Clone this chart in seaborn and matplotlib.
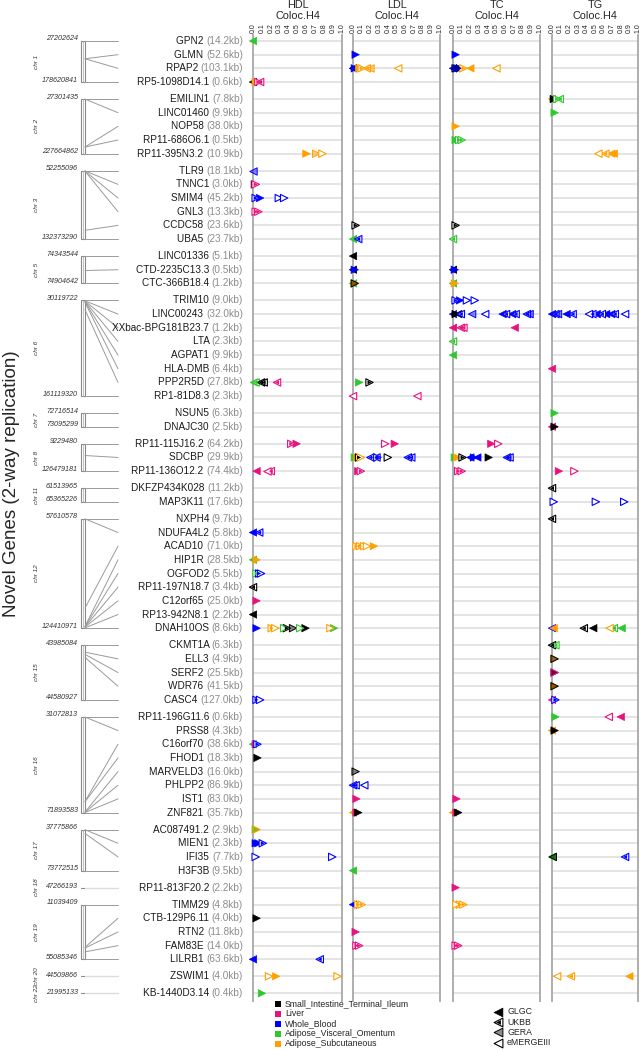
### Novel genes - colocalisation (Coloc.H4) by lipid trait
import numpy as np
import pandas as pd
import matplotlib
matplotlib.use('Agg')
import matplotlib.pyplot as plt
from matplotlib.colors import to_rgba
from matplotlib.patches import Rectangle
import seaborn as sns

# 1. Genes (top to bottom), gene size and approximate genomic position
genes = ['GPN2', 'GLMN', 'RPAP2', 'RP5-1098D14.1',
         'EMILIN1', 'LINC01460', 'NOP58', 'RP11-686O6.1', 'RP11-395N3.2',
         'TLR9', 'TNNC1', 'SMIM4', 'GNL3', 'CCDC58', 'UBA5',
         'LINC01336', 'CTD-2235C13.3', 'CTC-366B18.4',
         'TRIM10', 'LINC00243', 'XXbac-BPG181B23.7', 'LTA', 'AGPAT1', 'HLA-DMB', 'PPP2R5D', 'RP1-81D8.3',
         'NSUN5', 'DNAJC30',
         'RP11-115J16.2', 'SDCBP', 'RP11-136O12.2',
         'DKFZP434K028', 'MAP3K11',
         'NXPH4', 'NDUFA4L2', 'ACAD10', 'HIP1R', 'OGFOD2', 'RP11-197N18.7', 'C12orf65', 'RP13-942N8.1', 'DNAH10OS',
         'CKMT1A', 'ELL3', 'SERF2', 'WDR76', 'CASC4',
         'RP11-196G11.6', 'PRSS8', 'C16orf70', 'FHOD1', 'MARVELD3', 'PHLPP2', 'IST1', 'ZNF821',
         'AC087491.2', 'MIEN1', 'IFI35', 'H3F3B',
         'RP11-813F20.2',
         'TIMM29', 'CTB-129P6.11', 'RTN2', 'FAM83E', 'LILRB1',
         'ZSWIM1',
         'KB-1440D3.14']
gene_kb = ['14.2', '52.6', '103.1', '0.6',
           '7.8', '9.9', '38.0', '0.5', '10.9',
           '18.1', '3.0', '45.2', '13.3', '23.6', '23.7',
           '5.1', '0.5', '1.2',
           '9.0', '32.0', '1.2', '2.3', '9.9', '6.4', '27.8', '2.3',
           '6.3', '2.5',
           '64.2', '29.9', '74.4',
           '11.2', '17.6',
           '9.7', '5.8', '71.0', '28.5', '5.5', '3.4', '25.0', '2.2', '8.6',
           '6.3', '4.9', '25.5', '41.5', '127.0',
           '0.6', '4.3', '38.6', '18.3', '16.0', '86.9', '83.0', '35.7',
           '2.9', '2.3', '7.7', '9.5',
           '2.2',
           '4.8', '4.0', '11.8', '14.0', '63.6',
           '4.0',
           '0.4']
gene_pos = [27202624, 92712000, 92765000, 178620841,
            27301435, 27600000, 203130000, 203200000, 227664862,
            52255096, 52485000, 52700000, 52720000, 122080000, 132373290,
            74343544, 74640000, 74904642,
            30119722, 30740000, 31100000, 31540000, 32140000, 32900000, 42950000, 161119320,
            72716514, 73095299,
            9229480, 59460000, 126479181,
            61513965, 65365226,
            57610578, 57628000, 112123000, 123319000, 123459000, 123600000, 123717000, 124200000, 124410971,
            43985084, 44061000, 44085000, 44118000, 44580927,
            31072813, 31142000, 67143000, 67263000, 71660000, 71680000, 71860000, 71893583,
            37775866, 37885000, 41158000, 73772515,
            47266193,
            11039409, 45400000, 45990000, 49110000, 55085346,
            44509866,
            21995133]

chrom_names = ['chr 1', 'chr 2', 'chr 3', 'chr 5', 'chr 6', 'chr 7', 'chr 8', 'chr 11',
               'chr 12', 'chr 15', 'chr 16', 'chr 17', 'chr 18', 'chr 19', 'chr 20', 'chr 22']
chrom_counts = [4, 5, 6, 3, 8, 2, 3, 2, 9, 5, 8, 4, 1, 5, 1, 1]

# 2. Tissues (colour) and studies (marker style)
tissues = ['Small_Intestine_Terminal_Ileum', 'Liver', 'Whole_Blood',
           'Adipose_Visceral_Omentum', 'Adipose_Subcutaneous']
tissue_codes = ['SI', 'LV', 'WB', 'AV', 'AS']
tissue_colors = ['#000000', '#E8127F', '#0000FF', '#2EC72E', '#FFA000']
studies = ['GLGC', 'UKBB', 'GERA', 'eMERGEIII']
study_codes = ['G', 'U', 'R', 'E']

traits = ['HDL', 'LDL', 'TC', 'TG']

# 3. Coloc results: (gene, H4, tissue, study, direction of effect)
hdl_pts = [
    ('GPN2', 0.0, 'AV', 'G', '<'),
    ('RP5-1098D14.1', 0.0, 'SI', 'G', '<'), ('RP5-1098D14.1', 0.03, 'AS', 'G', '>'),
    ('RP5-1098D14.1', 0.06, 'LV', 'U', '>'), ('RP5-1098D14.1', 0.08, 'LV', 'U', '<'),
    ('RP11-395N3.2', 0.60, 'AS', 'G', '>'), ('RP11-395N3.2', 0.71, 'AS', 'R', '>'),
    ('RP11-395N3.2', 0.78, 'AS', 'E', '>'),
    ('TLR9', 0.0, 'WB', 'R', '<'),
    ('TNNC1', 0.02, 'SI', 'G', '>'), ('TNNC1', 0.03, 'LV', 'U', '>'),
    ('SMIM4', 0.03, 'WB', 'U', '>'), ('SMIM4', 0.08, 'WB', 'G', '>'),
    ('SMIM4', 0.29, 'WB', 'E', '>'), ('SMIM4', 0.35, 'WB', 'E', '>'),
    ('GNL3', 0.03, 'LV', 'U', '>'), ('GNL3', 0.06, 'LV', 'U', '>'),
    ('PPP2R5D', 0.01, 'AV', 'G', '<'), ('PPP2R5D', 0.03, 'AV', 'U', '<'),
    ('PPP2R5D', 0.09, 'SI', 'U', '<'), ('PPP2R5D', 0.12, 'SI', 'U', '<'),
    ('PPP2R5D', 0.27, 'LV', 'U', '<'),
    ('RP11-115J16.2', 0.43, 'LV', 'U', '>'), ('RP11-115J16.2', 0.49, 'LV', 'G', '>'),
    ('RP11-136O12.2', 0.04, 'LV', 'G', '<'), ('RP11-136O12.2', 0.16, 'LV', 'E', '<'),
    ('RP11-136O12.2', 0.20, 'LV', 'U', '<'),
    ('NDUFA4L2', 0.0, 'WB', 'G', '<'), ('NDUFA4L2', 0.07, 'WB', 'U', '<'),
    ('HIP1R', 0.0, 'AV', 'G', '<'), ('HIP1R', 0.04, 'AS', 'G', '>'),
    ('OGFOD2', 0.04, 'AV', 'U', '>'), ('OGFOD2', 0.07, 'WB', 'U', '>'), ('OGFOD2', 0.09, 'WB', 'E', '>'),
    ('RP11-197N18.7', 0.0, 'SI', 'U', '<'),
    ('C12orf65', 0.04, 'LV', 'G', '>'),
    ('RP13-942N8.1', 0.0, 'SI', 'G', '<'),
    ('DNAH10OS', 0.04, 'WB', 'G', '>'), ('DNAH10OS', 0.21, 'AS', 'U', '>'),
    ('DNAH10OS', 0.25, 'AS', 'E', '>'), ('DNAH10OS', 0.35, 'AV', 'E', '>'),
    ('DNAH10OS', 0.38, 'SI', 'U', '>'), ('DNAH10OS', 0.45, 'SI', 'R', '>'),
    ('DNAH10OS', 0.53, 'AV', 'E', '>'), ('DNAH10OS', 0.59, 'SI', 'G', '>'),
    ('DNAH10OS', 0.87, 'AS', 'E', '>'), ('DNAH10OS', 0.91, 'AV', 'G', '>'),
    ('CASC4', 0.04, 'WB', 'U', '>'), ('CASC4', 0.08, 'WB', 'E', '>'),
    ('C16orf70', 0.0, 'AV', 'G', '<'), ('C16orf70', 0.03, 'LV', 'G', '>'), ('C16orf70', 0.05, 'WB', 'U', '>'),
    ('FHOD1', 0.05, 'SI', 'G', '>'),
    ('AC087491.2', 0.03, 'AV', 'G', '>'), ('AC087491.2', 0.04, 'AS', 'R', '>'),
    ('MIEN1', 0.03, 'WB', 'G', '>'), ('MIEN1', 0.06, 'WB', 'G', '>'), ('MIEN1', 0.11, 'WB', 'U', '>'),
    ('IFI35', 0.03, 'WB', 'E', '>'), ('IFI35', 0.89, 'WB', 'E', '>'),
    ('CTB-129P6.11', 0.04, 'SI', 'G', '>'),
    ('LILRB1', 0.0, 'WB', 'G', '<'), ('LILRB1', 0.75, 'WB', 'U', '<'),
    ('ZSWIM1', 0.18, 'AS', 'E', '>'), ('ZSWIM1', 0.26, 'AS', 'G', '>'), ('ZSWIM1', 0.95, 'AS', 'E', '>'),
    ('KB-1440D3.14', 0.10, 'AV', 'G', '>'),
]
ldl_pts = [
    ('GLMN', 0.03, 'WB', 'G', '>'),
    ('RPAP2', 0.0, 'SI', 'G', '<'), ('RPAP2', 0.02, 'WB', 'G', '>'), ('RPAP2', 0.07, 'AS', 'G', '>'),
    ('RPAP2', 0.10, 'AS', 'U', '>'), ('RPAP2', 0.16, 'AS', 'U', '<'), ('RPAP2', 0.19, 'AS', 'R', '<'),
    ('RPAP2', 0.52, 'AS', 'E', '<'),
    ('CCDC58', 0.03, 'SI', 'U', '>'),
    ('UBA5', 0.0, 'AV', 'G', '<'), ('UBA5', 0.06, 'WB', 'U', '<'),
    ('LINC01336', 0.0, 'SI', 'G', '<'),
    ('CTD-2235C13.3', 0.0, 'SI', 'G', '<'), ('CTD-2235C13.3', 0.02, 'WB', 'G', '>'),
    ('CTC-366B18.4', 0.0, 'AV', 'G', '<'), ('CTC-366B18.4', 0.02, 'AS', 'G', '>'),
    ('CTC-366B18.4', 0.02, 'SI', 'R', '>'),
    ('PPP2R5D', 0.07, 'AV', 'G', '>'), ('PPP2R5D', 0.19, 'SI', 'U', '>'),
    ('RP1-81D8.3', 0.0, 'LV', 'E', '<'), ('RP1-81D8.3', 0.74, 'LV', 'E', '<'),
    ('RP11-115J16.2', 0.37, 'LV', 'E', '>'), ('RP11-115J16.2', 0.48, 'LV', 'G', '>'),
    ('SDCBP', 0.02, 'AV', 'G', '>'), ('SDCBP', 0.05, 'AS', 'G', '>'), ('SDCBP', 0.07, 'SI', 'U', '>'),
    ('SDCBP', 0.09, 'AS', 'E', '>'), ('SDCBP', 0.20, 'WB', 'U', '<'), ('SDCBP', 0.27, 'WB', 'U', '<'),
    ('SDCBP', 0.28, 'WB', 'U', '>'), ('SDCBP', 0.40, 'SI', 'E', '>'),
    ('SDCBP', 0.63, 'WB', 'U', '<'), ('SDCBP', 0.67, 'WB', 'U', '<'),
    ('RP11-136O12.2', 0.06, 'LV', 'G', '>'), ('RP11-136O12.2', 0.09, 'LV', 'U', '>'),
    ('ACAD10', 0.04, 'AS', 'U', '>'), ('ACAD10', 0.08, 'AS', 'U', '>'), ('ACAD10', 0.13, 'AS', 'E', '>'),
    ('ACAD10', 0.16, 'AS', 'E', '>'), ('ACAD10', 0.24, 'AS', 'G', '>'),
    ('MARVELD3', 0.03, 'SI', 'R', '>'),
    ('PHLPP2', 0.0, 'WB', 'U', '<'), ('PHLPP2', 0.03, 'WB', 'U', '<'), ('PHLPP2', 0.13, 'WB', 'E', '<'),
    ('IST1', 0.04, 'LV', 'G', '>'),
    ('ZNF821', 0.0, 'AS', 'G', '<'), ('ZNF821', 0.04, 'LV', 'G', '>'), ('ZNF821', 0.06, 'SI', 'G', '>'),
    ('H3F3B', 0.0, 'AV', 'G', '<'),
    ('TIMM29', 0.0, 'WB', 'G', '<'), ('TIMM29', 0.06, 'AS', 'U', '>'), ('TIMM29', 0.10, 'AS', 'U', '>'),
    ('RTN2', 0.03, 'LV', 'G', '>'),
    ('FAM83E', 0.04, 'LV', 'U', '>'), ('FAM83E', 0.07, 'LV', 'U', '>'),
]
tc_pts = [
    ('GLMN', 0.03, 'WB', 'G', '>'),
    ('RPAP2', 0.0, 'WB', 'G', '<'), ('RPAP2', 0.03, 'SI', 'R', '>'), ('RPAP2', 0.05, 'WB', 'R', '>'),
    ('RPAP2', 0.08, 'SI', 'G', '>'), ('RPAP2', 0.12, 'AS', 'U', '>'), ('RPAP2', 0.20, 'AS', 'G', '<'),
    ('RPAP2', 0.50, 'AS', 'E', '<'),
    ('NOP58', 0.03, 'AS', 'G', '>'),
    ('RP11-686O6.1', 0.03, 'AV', 'G', '>'), ('RP11-686O6.1', 0.07, 'AV', 'U', '>'),
    ('RP11-686O6.1', 0.10, 'AV', 'U', '>'),
    ('CCDC58', 0.03, 'SI', 'U', '>'),
    ('UBA5', 0.0, 'AV', 'U', '<'),
    ('CTD-2235C13.3', 0.0, 'SI', 'G', '<'), ('CTD-2235C13.3', 0.02, 'WB', 'G', '>'),
    ('CTC-366B18.4', 0.0, 'AV', 'G', '<'), ('CTC-366B18.4', 0.02, 'AS', 'G', '>'),
    ('TRIM10', 0.03, 'WB', 'U', '>'), ('TRIM10', 0.08, 'WB', 'G', '>'),
    ('TRIM10', 0.16, 'WB', 'E', '>'), ('TRIM10', 0.25, 'WB', 'E', '>'),
    ('LINC00243', 0.0, 'WB', 'G', '<'), ('LINC00243', 0.03, 'SI', 'G', '>'),
    ('LINC00243', 0.06, 'SI', 'G', '<'), ('LINC00243', 0.09, 'WB', 'U', '<'),
    ('LINC00243', 0.22, 'WB', 'R', '<'), ('LINC00243', 0.37, 'WB', 'E', '<'),
    ('LINC00243', 0.57, 'WB', 'G', '<'), ('LINC00243', 0.61, 'WB', 'U', '<'),
    ('LINC00243', 0.68, 'WB', 'G', '<'), ('LINC00243', 0.72, 'WB', 'U', '<'),
    ('LINC00243', 0.85, 'WB', 'U', '<'), ('LINC00243', 0.88, 'WB', 'R', '<'),
    ('XXbac-BPG181B23.7', 0.0, 'LV', 'G', '<'), ('XXbac-BPG181B23.7', 0.09, 'LV', 'U', '<'),
    ('XXbac-BPG181B23.7', 0.12, 'LV', 'U', '<'), ('XXbac-BPG181B23.7', 0.71, 'LV', 'G', '<'),
    ('LTA', 0.0, 'AV', 'U', '<'),
    ('AGPAT1', 0.0, 'AV', 'G', '<'),
    ('RP11-115J16.2', 0.44, 'LV', 'G', '>'), ('RP11-115J16.2', 0.52, 'LV', 'E', '>'),
    ('SDCBP', 0.02, 'AV', 'G', '>'), ('SDCBP', 0.05, 'AS', 'G', '>'), ('SDCBP', 0.11, 'SI', 'U', '>'),
    ('SDCBP', 0.20, 'WB', 'G', '<'), ('SDCBP', 0.24, 'WB', 'G', '>'), ('SDCBP', 0.28, 'WB', 'G', '<'),
    ('SDCBP', 0.41, 'SI', 'G', '>'), ('SDCBP', 0.62, 'WB', 'U', '<'), ('SDCBP', 0.65, 'WB', 'U', '<'),
    ('RP11-136O12.2', 0.06, 'LV', 'U', '>'), ('RP11-136O12.2', 0.10, 'LV', 'U', '>'),
    ('IST1', 0.04, 'LV', 'G', '>'),
    ('ZNF821', 0.0, 'AS', 'G', '<'), ('ZNF821', 0.04, 'LV', 'G', '>'), ('ZNF821', 0.06, 'SI', 'G', '>'),
    ('RP11-813F20.2', 0.03, 'LV', 'G', '>'),
    ('TIMM29', 0.04, 'AS', 'E', '>'), ('TIMM29', 0.08, 'AS', 'U', '>'), ('TIMM29', 0.12, 'AS', 'U', '>'),
    ('FAM83E', 0.03, 'LV', 'U', '>'), ('FAM83E', 0.06, 'LV', 'U', '>'),
]
tg_pts = [
    ('EMILIN1', 0.0, 'AS', 'G', '<'), ('EMILIN1', 0.02, 'SI', 'G', '>'),
    ('EMILIN1', 0.06, 'AV', 'U', '>'), ('EMILIN1', 0.09, 'AV', 'U', '<'),
    ('LINC01460', 0.03, 'AV', 'G', '>'),
    ('RP11-395N3.2', 0.54, 'AS', 'E', '<'), ('RP11-395N3.2', 0.62, 'AS', 'U', '<'),
    ('RP11-395N3.2', 0.69, 'AS', 'G', '<'), ('RP11-395N3.2', 0.72, 'AS', 'G', '<'),
    ('LINC00243', 0.0, 'WB', 'G', '<'), ('LINC00243', 0.04, 'WB', 'U', '<'),
    ('LINC00243', 0.07, 'WB', 'R', '<'), ('LINC00243', 0.17, 'WB', 'G', '<'),
    ('LINC00243', 0.24, 'WB', 'U', '<'), ('LINC00243', 0.43, 'WB', 'E', '<'),
    ('LINC00243', 0.47, 'WB', 'U', '<'), ('LINC00243', 0.52, 'WB', 'G', '<'),
    ('LINC00243', 0.58, 'WB', 'U', '<'), ('LINC00243', 0.63, 'WB', 'G', '<'),
    ('LINC00243', 0.69, 'WB', 'G', '<'), ('LINC00243', 0.73, 'WB', 'U', '<'),
    ('LINC00243', 0.85, 'WB', 'E', '<'),
    ('HLA-DMB', 0.0, 'LV', 'G', '<'),
    ('NSUN5', 0.03, 'AV', 'G', '>'),
    ('DNAJC30', 0.0, 'LV', 'G', '<'), ('DNAJC30', 0.03, 'SI', 'G', '>'),
    ('RP11-136O12.2', 0.08, 'LV', 'G', '>'), ('RP11-136O12.2', 0.26, 'LV', 'E', '>'),
    ('DKFZP434K028', 0.0, 'SI', 'U', '<'),
    ('MAP3K11', 0.02, 'WB', 'E', '>'), ('MAP3K11', 0.51, 'WB', 'E', '>'), ('MAP3K11', 0.84, 'WB', 'E', '>'),
    ('NXPH4', 0.0, 'SI', 'U', '<'),
    ('DNAH10OS', 0.0, 'WB', 'G', '<'), ('DNAH10OS', 0.02, 'AS', 'G', '<'),
    ('DNAH10OS', 0.37, 'SI', 'U', '<'), ('DNAH10OS', 0.48, 'SI', 'G', '<'),
    ('DNAH10OS', 0.67, 'AS', 'E', '<'), ('DNAH10OS', 0.72, 'AV', 'U', '<'),
    ('DNAH10OS', 0.81, 'AV', 'G', '<'),
    ('CKMT1A', 0.0, 'SI', 'U', '<'), ('CKMT1A', 0.04, 'AV', 'U', '<'),
    ('ELL3', 0.03, 'AS', 'R', '>'), ('ELL3', 0.03, 'SI', 'R', '>'),
    ('SERF2', 0.03, 'SI', 'G', '>'), ('SERF2', 0.03, 'LV', 'R', '>'),
    ('WDR76', 0.03, 'AS', 'G', '>'), ('WDR76', 0.03, 'SI', 'R', '>'),
    ('CASC4', 0.0, 'LV', 'G', '<'), ('CASC4', 0.04, 'WB', 'U', '>'),
    ('RP11-196G11.6', 0.04, 'AV', 'G', '>'), ('RP11-196G11.6', 0.66, 'LV', 'E', '<'),
    ('RP11-196G11.6', 0.80, 'LV', 'G', '<'),
    ('PRSS8', 0.0, 'AS', 'G', '<'), ('PRSS8', 0.03, 'SI', 'G', '>'),
    ('IFI35', 0.0, 'AV', 'G', '<'), ('IFI35', 0.01, 'SI', 'R', '<'), ('IFI35', 0.85, 'WB', 'U', '<'),
    ('ZSWIM1', 0.06, 'AS', 'E', '<'), ('ZSWIM1', 0.22, 'AS', 'U', '<'), ('ZSWIM1', 0.90, 'AS', 'G', '<'),
]

# 4. Layout (pixel coordinates of a 640x1050 figure)
W, H = 640, 1050
grp_idx = np.repeat(np.arange(len(chrom_counts)), chrom_counts)
row_y = 41 + 13.67 * np.arange(len(genes)) + 3.34 * grp_idx
gene_y = dict(zip(genes, row_y))
pal = dict(zip(tissue_codes, tissue_colors))
panel_x = [(253, 342), (353, 440), (453, 540), (552, 638)]
y_top, y_bot = 35, 1001
MS = 28

sns.set_theme(style='white')
plt.rcParams['font.family'] = ['Liberation Sans', 'DejaVu Sans']

fig = plt.figure(figsize=(W / 100, H / 100), dpi=100)
bg = fig.add_axes([0, 0, 1, 1])
bg.set_xlim(0, W)
bg.set_ylim(H, 0)
bg.axis('off')

# 5. Chromosome schematic on the left
start = 0
for name, n in zip(chrom_names, chrom_counts):
    idx = list(range(start, start + n))
    top, bot = row_y[idx[0]], row_y[idx[-1]]
    if n == 1:
        bg.plot([81, 85], [top, top], color='#888888', lw=0.8)
        bg.plot([85, 118], [top, top], color='#dddddd', lw=1.0)
        bg.text(78, top - 1, f'{gene_pos[idx[0]]}', ha='right', va='center',
                fontsize=5.2, style='italic', color='#333333')
    else:
        p0, p1 = gene_pos[idx[0]], gene_pos[idx[-1]]
        bg.add_patch(Rectangle((81, top), 4, bot - top, fill=False,
                               ec='#888888', lw=0.8))
        bg.plot([83, 83], [top, bot], color='#aaaaaa', lw=0.5)
        for i in idx:
            by = top + (gene_pos[i] - p0) / (p1 - p0) * (bot - top)
            bg.plot([85, 118], [by, row_y[i]], color='#9a9a9a', lw=0.7)
        bg.text(78, top - 2, f'{p0}', ha='right', va='center',
                fontsize=5.2, style='italic', color='#333333')
        bg.text(78, bot - 2, f'{p1}', ha='right', va='center',
                fontsize=5.2, style='italic', color='#333333')
    bg.text(37, (top + bot) / 2, name, rotation=90, ha='center', va='center',
            fontsize=4.6, style='italic', color='#333333')
    start += n

# 6. Gene labels: name in black, size in grey
for g, kb, y in zip(genes, gene_kb, row_y):
    t = bg.text(243, y, f'({kb}kb)', ha='right', va='center', fontsize=7.2,
                color='#8c8c8c')
    bg.annotate(g + ' ', xy=(0, 0.5), xycoords=t, ha='right', va='center',
                fontsize=7.2, color='#1a1a1a')

bg.text(12, 484, 'Novel Genes (2-way replication)', rotation=90,
        ha='center', va='center', fontsize=13.5)


# 7. One panel per trait
def draw_markers(ax, df, study, direction):
    sub = df[(df['study'] == study) & (df['dir'] == direction)]
    if sub.empty:
        return
    cols = [pal[t] for t in sub['tissue']]
    sns.scatterplot(data=sub, x='h4', y='ypx', hue='tissue', palette=pal,
                    marker=direction, s=MS, legend=False, ax=ax, zorder=3)
    coll = ax.collections[-1]
    coll.set_clip_on(False)
    if study == 'G':
        coll.set_facecolor(cols)
        coll.set_edgecolor(cols)
        coll.set_linewidth(0.5)
    elif study == 'R':
        coll.set_facecolor([to_rgba(c, 0.45) for c in cols])
        coll.set_edgecolor(cols)
        coll.set_linewidth(0.7)
    else:
        coll.set_facecolor('white')
        coll.set_edgecolor(cols)
        coll.set_linewidth(0.8)
        if study == 'U':
            inner = ax.scatter(sub['h4'], sub['ypx'], marker=direction, s=MS * 0.3,
                               c=cols, linewidths=0, zorder=4)
            inner.set_clip_on(False)


for trait, pts, (x0, x1) in zip(traits, [hdl_pts, ldl_pts, tc_pts, tg_pts], panel_x):
    df = pd.DataFrame(pts, columns=['gene', 'h4', 'tissue', 'study', 'dir'])
    df['ypx'] = df['gene'].map(gene_y)

    ax = fig.add_axes([x0 / W, 1 - y_bot / H, (x1 - x0) / W, (y_bot - y_top) / H])
    ax.set_facecolor('none')
    ax.hlines(row_y, 0, 1, color='#dcdcdc', lw=1.1, zorder=1)
    for study in study_codes:
        for direction in ['<', '>']:
            draw_markers(ax, df, study, direction)

    ax.set_xlim(0, 1)
    ax.set_ylim(y_bot, y_top)
    ax.set_xlabel('')
    ax.set_ylabel('')
    ax.set_yticks([])
    ax.xaxis.set_ticks_position('top')
    ticks = np.round(np.arange(0, 1.01, 0.1), 1)
    ax.set_xticks(ticks)
    ax.set_xticklabels([f'{v:.1f}' for v in ticks], rotation=90, fontsize=5)
    ax.tick_params(axis='x', length=0, pad=1.5, colors='#222222')
    for side in ['top', 'bottom']:
        ax.spines[side].set_visible(False)
    for side in ['left', 'right']:
        ax.spines[side].set_color('#a8a8a8')
        ax.spines[side].set_linewidth(1.3)

    xc = (x0 + x1) / 2
    bg.text(xc, 5.5, trait, ha='center', va='center', fontsize=7.8)
    bg.text(xc, 16, 'Coloc.H4', ha='center', va='center', fontsize=7.8)

# 8. Legends
for k, (tname, col) in enumerate(zip(tissues, tissue_colors)):
    y = 1004 + 10 * k
    bg.scatter([278], [y], marker='s', s=16, color=col, linewidths=0)
    bg.text(285, y, tname, ha='left', va='center', fontsize=6.3)

for k, (sname, code) in enumerate(zip(studies, study_codes)):
    y = 1012 + 10.2 * k
    if code == 'G':
        bg.scatter([498], [y], marker='<', s=40, color='black', linewidths=0.5)
    elif code == 'R':
        bg.scatter([498], [y], marker='<', s=40, facecolor=to_rgba('black', 0.45),
                   edgecolor='black', linewidths=0.7)
    else:
        bg.scatter([498], [y], marker='<', s=40, facecolor='white',
                   edgecolor='black', linewidths=0.8)
        if code == 'U':
            bg.scatter([498], [y], marker='<', s=40 * 0.3, color='black', linewidths=0)
    bg.text(507, y, sname, ha='left', va='center', fontsize=6.3)

plt.savefig('out.png', dpi=100)
